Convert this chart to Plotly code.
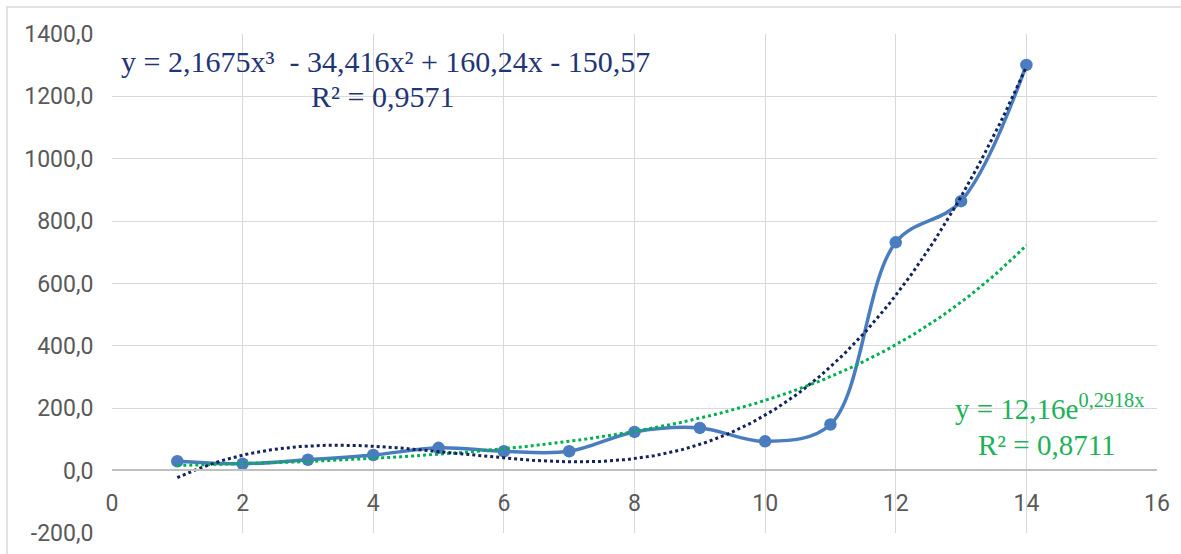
import numpy as np
import plotly.graph_objects as go

# data
x_vals = [1, 2, 3, 4, 5, 6, 7, 8, 9, 10, 11, 12, 13, 14]
y_vals = [30, 22, 35, 50, 73, 62, 62, 124, 137, 94, 148, 732, 864, 1301]

# trendline coefficients as shown on the chart
poly_coef = [2.1675, -34.416, 160.24, -150.57]   # cubic, highest power first
exp_a = 12.16
exp_b = 0.2918

x_ticks = [0, 2, 4, 6, 8, 10, 12, 14, 16]
y_ticks = [-200, 0, 200, 400, 600, 800, 1000, 1200, 1400]
y_tick_text = ["-200,0", "0,0", "200,0", "400,0", "600,0", "800,0", "1000,0", "1200,0", "1400,0"]

xt = np.linspace(min(x_vals), max(x_vals), 300)
y_poly = np.polyval(poly_coef, xt)
y_exp = exp_a * np.exp(exp_b * xt)

BLUE = "#4A7DC0"
NAVY = "#13235E"
GREEN = "#00B050"

fig = go.Figure()
fig.add_trace(go.Scatter(
    x=x_vals, y=y_vals, mode="lines+markers",
    line=dict(color=BLUE, width=3.5, shape="spline", smoothing=1.0),
    marker=dict(color=BLUE, size=12.5), showlegend=False))
fig.add_trace(go.Scatter(
    x=xt, y=y_exp, mode="lines",
    line=dict(color=GREEN, width=3, dash="dot"), showlegend=False))
fig.add_trace(go.Scatter(
    x=xt, y=y_poly, mode="lines",
    line=dict(color=NAVY, width=3, dash="dot"), showlegend=False))

NAVY_TXT = "#1F3576"
GREEN_TXT = "#1DB25A"
fig.add_annotation(
    xref="paper", yref="paper", x=0.262, y=0.9458, xanchor="center", yanchor="middle",
    text="y = 2,1675x³  - 34,416x² + 160,24x - 150,57",
    showarrow=False, font=dict(family="Liberation Serif", size=30, color=NAVY_TXT))
fig.add_annotation(
    xref="paper", yref="paper", x=0.259, y=0.8755, xanchor="center", yanchor="middle",
    text="R² = 0,9571",
    showarrow=False, font=dict(family="Liberation Serif", size=30, color=NAVY_TXT))
fig.add_annotation(
    xref="paper", yref="paper", x=0.8967, y=0.253, xanchor="center", yanchor="middle",
    text="y = 12,16e<sup>0,2918x</sup>",
    showarrow=False, font=dict(family="Liberation Serif", size=29, color=GREEN_TXT))
fig.add_annotation(
    xref="paper", yref="paper", x=0.8947, y=0.1767, xanchor="center", yanchor="middle",
    text="R² = 0,8711",
    showarrow=False, font=dict(family="Liberation Serif", size=29, color=GREEN_TXT))

# outer chart border (only top and left edges fall inside the picture)
fig.add_shape(type="rect", xref="paper", yref="paper",
              x0=-0.1005, x1=1.2, y0=-0.3, y1=1.054,
              line=dict(color="#D9D9D9", width=1.5), layer="above")

fig.update_layout(
    width=1181, height=554,
    margin=dict(l=112, r=24, t=34, b=21),
    plot_bgcolor="white", paper_bgcolor="white",
    xaxis=dict(range=[0, 16], tickvals=x_ticks, showgrid=True, gridcolor="#D9D9D9",
               gridwidth=1.2, zeroline=False, showline=True, linecolor="#BFBFBF",
               linewidth=1.5, anchor="free", position=0.1253, ticks="",
               ticklabelstandoff=12, automargin=False,
               tickfont=dict(family="Roboto", size=23, color="#595959")),
    yaxis=dict(range=[-200, 1400], tickvals=y_ticks, ticktext=y_tick_text,
               showgrid=True, gridcolor="#D9D9D9", gridwidth=1.2, zeroline=False,
               showline=False, ticks="outside", ticklen=13, tickcolor="rgba(0,0,0,0)",
               automargin=False,
               tickfont=dict(family="Roboto", size=23, color="#595959")),
)

fig.write_html("out.html", config={"displayModeBar": False},
               post_script="document.body.style.margin='0px';document.body.style.overflow='hidden';")
